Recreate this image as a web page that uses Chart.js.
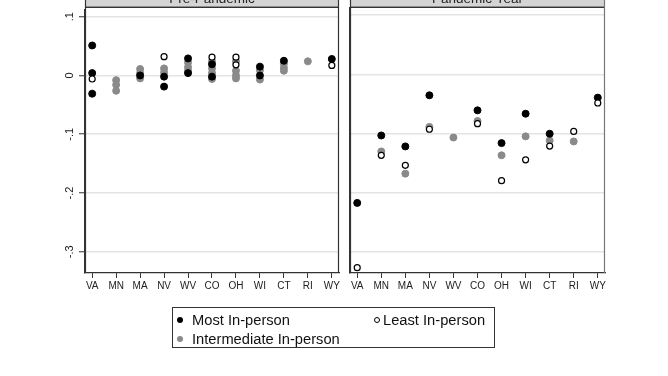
<!DOCTYPE html>
<html><head><meta charset="utf-8">
<script src="https://cdn.jsdelivr.net/npm/chart.js@4/dist/chart.umd.min.js"></script>
<style>
html,body{margin:0;padding:0;background:#fff;}
#wrap{position:relative;width:668px;height:376px;overflow:hidden;background:#fff;}
canvas{position:absolute;left:0;top:0;}
#legend{position:absolute;left:172px;top:307px;width:323px;height:41px;border:1px solid #333;box-sizing:border-box;font-family:"Liberation Sans",Arial,sans-serif;font-size:14.7px;color:#111;}
.txt{position:absolute;white-space:nowrap;line-height:16px;}
.mk{position:absolute;border-radius:50%;box-sizing:border-box;}
</style></head>
<body><div id="wrap">
<canvas id="c1" width="668" height="376"></canvas>
<canvas id="c2" width="668" height="376"></canvas>
<div id="legend"></div>
</div>
<script>
const states = ['VA','MN','MA','NV','WV','CO','OH','WI','CT','RI','WY'];
const panelTitles = ['Pre-Pandemic','Pandemic Year'];
const seriesNames = ['Most In-person','Least In-person','Intermediate In-person'];
const yTickValues = [0.1, 0, -0.1, -0.2, -0.3];
const yTickLabels = ['.1','0','-.1','-.2','-.3'];

// Pre-pandemic: several observations per state
const preMost  = [[0.051,0.004,-0.031],[],[0.0],[-0.002,-0.019],[0.029,0.004],[0.019,-0.002],[],[0.015,0.0],[0.025],[],[0.028]];
const preLeast = [[-0.006],[],[],[0.032],[],[0.031],[0.031,0.018],[],[],[],[0.017]];
const preInter = [[],[-0.008,-0.016,-0.026],[0.011,0.004,-0.005],[0.012,0.005],[0.022,0.014,0.008],[0.024,0.012,0.004,-0.006],[0.024,0.008,0.0,-0.005],[0.009,-0.007],[0.02,0.013,0.008],[0.024],[]];

// Pandemic year: one observation per state
const pandMost  = [-0.2175,-0.1035,-0.122,-0.0356,null,-0.061,-0.1164,-0.0667,-0.1006,null,-0.0395];
const pandLeast = [-0.327,-0.137,-0.154,-0.093,null,-0.0836,-0.18,-0.1446,-0.1215,-0.0966,-0.0486];
const pandInter = [null,-0.1305,-0.168,-0.089,-0.107,-0.079,-0.137,-0.105,-0.112,-0.1136,null];

const seriesStyle = [
  {bg:'#000000', border:'#000000', r:3.5, bw:1},
  {bg:'#ffffff', border:'#000000', r:3, bw:1.2},
  {bg:'#8a8a8a', border:'#8a8a8a', r:3.5, bw:1}
];

function pts(arr){
  const out=[];
  arr.forEach((v,i)=>{
    if(Array.isArray(v)) v.forEach(y=>out.push({x:i,y:y}));
    else if(v!==null) out.push({x:i,y:v});
  });
  return out;
}

function ds(arr, si, order){
  const s = seriesStyle[si];
  return {label:seriesNames[si], data:pts(arr), backgroundColor:s.bg, borderColor:s.border,
    pointBackgroundColor:s.bg, pointBorderColor:s.border, pointRadius:s.r, pointBorderWidth:s.bw,
    pointHoverRadius:s.r, showLine:false, order:order};
}

const panelPlugin = {
  id:'panel',
  afterDraw(chart, args, o){
    const ctx = chart.ctx, a = chart.chartArea;
    ctx.save();
    ctx.fillStyle = '#d4d4d4';
    ctx.fillRect(a.left, 0, a.right-a.left, 6.5);
    ctx.strokeStyle = '#333';
    ctx.lineWidth = 1.5;
    ctx.beginPath(); ctx.moveTo(a.left, 7.25); ctx.lineTo(a.right, 7.25); ctx.stroke();
    ctx.fillStyle = '#222';
    ctx.font = '13.5px "Liberation Sans", Arial, sans-serif';
    ctx.textAlign = 'center';
    ctx.textBaseline = 'alphabetic';
    ctx.fillText(o.title, (a.left+a.right)/2, 3);
    ctx.lineWidth = 1.2;
    ctx.strokeStyle = '#333';
    ctx.beginPath(); ctx.moveTo(a.left+0.5, 0); ctx.lineTo(a.left+0.5, a.bottom); ctx.stroke();
    ctx.strokeStyle = o.rightColor;
    ctx.beginPath(); ctx.moveTo(a.right-0.5, 0); ctx.lineTo(a.right-0.5, a.bottom); ctx.stroke();
    ctx.restore();
  }
};

function makeChart(id, datasets, title, showYLabels, padding, rightColor){
  return new Chart(document.getElementById(id), {
    type:'scatter',
    data:{datasets:datasets},
    plugins:[panelPlugin],
    options:{
      responsive:false, animation:false, events:[],
      layout:{padding:padding},
      plugins:{legend:{display:false}, tooltip:{enabled:false}, panel:{title:title, rightColor:rightColor}},
      scales:{
        x:{type:'linear', min:-0.3, max:10.3,
          afterBuildTicks:s=>{s.ticks = states.map((_,i)=>({value:i}));},
          afterFit:s=>{s.height=20;},
          ticks:{callback:v=>states[v], autoSkip:false, maxRotation:0, minRotation:0, padding:2,
            color:'#222', font:{family:'"Liberation Sans", Arial, sans-serif', size:10}},
          grid:{drawOnChartArea:false, drawTicks:true, tickLength:5, tickColor:'#333', tickWidth:1},
          border:{color:'#333', width:1.2}
        },
        y:{type:'linear', min:-0.336, max:0.112,
          afterBuildTicks:s=>{s.ticks = yTickValues.map(v=>({value:v}));},
          afterFit:s=>{s.width = showYLabels ? 40 : 0;},
          ticks:{display:showYLabels, minRotation:90, maxRotation:90, crossAlign:'center', padding:3,
            callback:v=>{const i=yTickValues.findIndex(t=>Math.abs(t-v)<1e-9); return i>=0?yTickLabels[i]:'';},
            color:'#222', font:{family:'"Liberation Sans", Arial, sans-serif', size:11}},
          grid:{color:'#e4e4e4', lineWidth:1.5, drawTicks:showYLabels, tickLength:6, tickColor:'#333', tickWidth:1},
          border:{color:'#333', width:1.2}
        }
      }
    }
  });
}

makeChart('c1', [ds(preLeast,1,0), ds(preMost,0,1), ds(preInter,2,2)], panelTitles[0], true,
  {left:45, right:329, top:8, bottom:83}, '#333');
makeChart('c2', [ds(pandLeast,1,0), ds(pandMost,0,1), ds(pandInter,2,2)], panelTitles[1], false,
  {left:350, right:63, top:8, bottom:83}, '#777');

// Legend (HTML), built from series names and styles
const legendPos = [
  {mx:8, my:13, tx:20},
  {mx:205, my:13, tx:211},
  {mx:8, my:32, tx:20}
];
const leg = document.getElementById('legend');
seriesNames.forEach((name,i)=>{
  const s = seriesStyle[i], p = legendPos[i];
  const m = document.createElement('div');
  m.className='mk';
  const d = 6;
  m.style.width=d+'px'; m.style.height=d+'px';
  m.style.left=(p.mx-d/2-1)+'px'; m.style.top=(p.my-d/2-1)+'px';
  m.style.background=s.bg;
  m.style.border=(i===1?'1px':'0')+' solid '+s.border;
  leg.appendChild(m);
  const t = document.createElement('div');
  t.className='txt';
  t.textContent=name;
  t.style.left=(p.tx-1)+'px'; t.style.top=(p.my-8-1)+'px';
  leg.appendChild(t);
});
</script>
</body></html>
